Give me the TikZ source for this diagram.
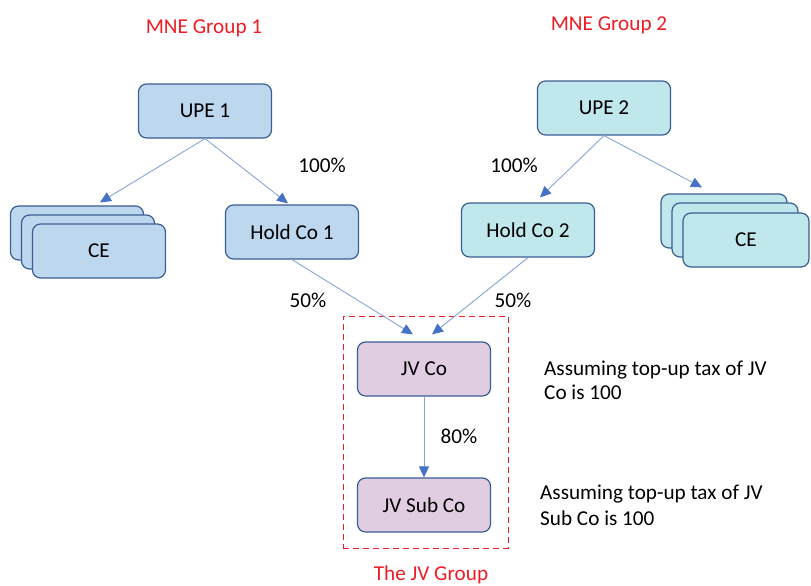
\documentclass[tikz,border=0pt]{standalone}
\usepackage{fontspec}
\setmainfont{Carlito}
\usetikzlibrary{arrows.meta,positioning}
\definecolor{boxblue}{HTML}{BDD7EE}
\definecolor{boxcyan}{HTML}{C0E8EC}
\definecolor{boxpink}{HTML}{E1CDE1}
\definecolor{edgeblue}{HTML}{3B5E93}
\definecolor{linkblue}{HTML}{87A4D8}
\definecolor{tipblue}{HTML}{4472C4}
\definecolor{titlered}{HTML}{EE1C24}
\tikzstyle{company} = [draw=edgeblue, line width=1.2pt, rounded corners=8pt, minimum width=133pt, minimum height=54pt, inner sep=0pt]

\begin{document}
\begin{tikzpicture}
  [
    x=1pt, y=-1pt,
    ->,
    >={Triangle[length=11pt, width=10pt, color=tipblue]},
    font=\fontsize{21.2}{26}\selectfont,
    link/.style={draw=linkblue, line width=0.9pt},
    grp1/.style={company, fill=boxblue},
    grp2/.style={company, fill=boxcyan, minimum width=126pt},
    jv/.style={company, fill=boxpink},
    title/.style={text=titlered, inner sep=0pt},
    note/.style={align=left, anchor=base west, inner sep=0pt},
  ]
  \useasboundingbox (0,0) rectangle (811,586);

  % group titles
  \node [title] (mne1) at (204,28) {MNE Group 1};
  \node [title] (mne2) at (609,25) {MNE Group 2};

  % MNE group 1
  \node [grp1] (upe1) at (205,111) {UPE 1};
  \node [grp1] (hold1) at (292,232) {Hold Co 1};
  \node [grp1] (ce1c) at (77,233) {};
  \node [grp1] (ce1b) at (88,242) {};
  \node [grp1] (ce1) at (99,251) {CE};

  % MNE group 2
  \node [grp2, minimum width=133pt] (upe2) at (604,108) {UPE 2};
  \node [grp2, minimum width=133pt] (hold2) at (528,230) {Hold Co 2};
  \node [grp2] (ce2c) at (724,221) {};
  \node [grp2] (ce2b) at (735,230) {};
  \node [grp2] (ce2) at (746,240) {CE};

  % the JV group
  \node [draw=titlered, dashed, dash pattern=on 6pt off 4pt, line width=1pt,
         minimum width=165pt, minimum height=232pt] (jvgroup) at (425.5,432) {};
  \node [title, anchor=base] (jvtitle) at (431,580) {The JV Group};
  \node [jv] (jvco) at (424,369) {JV Co};
  \node [jv] (jvsub) at (424,505) {JV Sub Co};

  % ownership links
  \draw [link] (upe1.south) -- ([xshift=23pt,yshift=3pt]ce1c.north);
  \draw [link] (upe1.south) -- ([xshift=-4pt,yshift=1pt]hold1.north);
  \draw [link] (upe2.south) -- ([xshift=12pt,yshift=5pt]hold2.north);
  \draw [link] (upe2.south) -- ([xshift=-22pt,yshift=6pt]ce2c.north);
  \draw [link] (hold1.south) -- ([xshift=-11pt,yshift=7pt]jvco.north);
  \draw [link] (hold2.south) -- ([xshift=8pt,yshift=7pt]jvco.north);
  \draw [link] (jvco) -- (jvsub);

  % percentages
  \node (p1) at (322,165) {100\%};
  \node (p2) at (514,165) {100\%};
  \node (p3) at (308,300) {50\%};
  \node (p4) at (513,300) {50\%};
  \node (p5) at (459,436) {80\%};

  % notes
  \node [note] (note1) at (544,399) {Assuming top-up tax of JV\\[-2pt]Co is 100};
  \node [note] (note2) at (540,525) {Assuming top-up tax of JV\\Sub Co is 100};
\end{tikzpicture}
\end{document}
